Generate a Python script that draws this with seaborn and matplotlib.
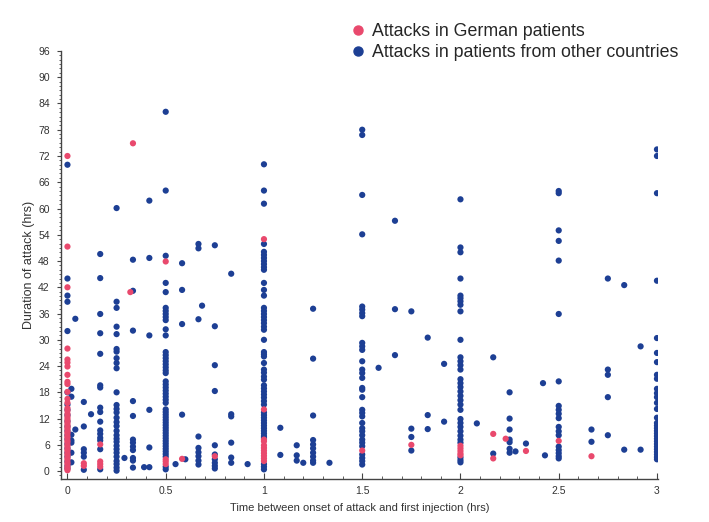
import numpy as np
import pandas as pd
import matplotlib
matplotlib.use('Agg')
import matplotlib.pyplot as plt
from matplotlib.lines import Line2D
from matplotlib.ticker import MultipleLocator
import seaborn as sns

sns.set_style('ticks')
plt.rcParams['font.family'] = ['Liberation Sans', 'DejaVu Sans']

pink = '#E9496D'
blue = '#1D3F94'

# time columns (hrs) and attack durations (hrs), patients from other countries
other_times = [0.0, 0.02, 0.04, 0.0833, 0.12, 0.1667, 0.25, 0.29, 0.3333, 0.39, 0.4167,
               0.5, 0.55, 0.5833, 0.6, 0.6667, 0.685, 0.75, 0.8333, 0.9167, 1.0, 1.0833,
               1.1667, 1.2, 1.25, 1.3333, 1.5, 1.5833, 1.6667, 1.75, 1.8333, 1.9167, 2.0,
               2.0833, 2.1667, 2.25, 2.28, 2.3333, 2.42, 2.43, 2.5, 2.6667, 2.75, 2.8333,
               2.9167, 3.0]
other_durations = [
    [70.0, 44.0, 40.1, 38.7, 32.0, 18.0, 15.2, 14.0, 12.8, 11.4, 10.2, 9.2, 8.2, 7.3, 6.2, 5.2, 4.2, 3.3, 2.2, 1.2, 0.6],
    [18.8, 17.0, 8.3, 7.0, 6.5, 4.2, 2.0],
    [34.8, 9.5],
    [15.8, 10.2, 5.0, 4.2, 3.3, 0.3],
    [13.0],
    [49.6, 44.1, 35.9, 31.5, 26.8, 19.6, 19.1, 14.5, 13.5, 11.3, 9.3, 8.5, 7.6, 7.0, 5.0, 0.4],
    [60.1, 38.7, 37.3, 33.0, 31.3, 27.9, 27.3, 25.8, 24.7, 23.5, 18.0, 15.1, 14.2, 13.4, 12.2, 11.2, 10.3,
     9.2, 8.2, 7.4, 6.7, 5.8, 5.0, 4.2, 3.3, 2.3, 1.6, 0.8, 0.1],
    [3.0],
    [48.3, 41.2, 32.1, 16.0, 12.6, 7.2, 6.5, 5.6, 4.8, 3.0, 2.4, 0.8],
    [0.9],
    [61.8, 48.7, 31.0, 14.0, 5.4, 0.9],
    [82.1, 64.1, 49.2, 43.0, 40.9, 37.3, 36.6, 35.9, 35.2, 34.5, 32.4, 31.0, 27.2, 26.5, 25.8, 25.1, 24.4,
     23.7, 23.0, 22.4, 20.5, 19.8, 19.1, 18.4, 17.7, 17.0, 16.3, 15.6, 14.1, 13.5, 12.9, 12.3, 11.7, 11.1,
     10.5, 9.9, 9.3, 8.7, 8.1, 7.5, 6.9, 6.3, 5.7, 5.1, 4.5, 3.9, 3.3, 1.0, 0.4],
    [1.6],
    [47.5, 41.4, 33.6, 12.9],
    [2.7],
    [51.9, 50.9, 34.7, 7.9, 5.3, 4.3, 3.4, 2.4, 1.5],
    [37.8],
    [51.6, 33.1, 24.2, 18.3, 5.9, 3.8, 2.7, 1.9, 1.2, 0.6],
    [45.1, 13.0, 12.5, 6.5, 3.1, 1.9],
    [1.6],
    [70.1, 64.1, 61.1, 51.9, 50.1, 49.4, 48.7, 48.0, 47.3, 46.6, 46.0, 43.0, 41.4, 40.1, 37.3, 36.6, 35.9,
     35.2, 34.5, 33.8, 33.0, 32.3, 30.0, 27.2, 26.7, 26.2, 24.7, 23.2, 22.5, 21.6, 20.9, 19.6, 18.9, 18.2,
     17.5, 16.8, 16.0, 15.2, 13.4, 12.8, 12.2, 11.6, 11.0, 10.4, 9.8, 9.2, 8.6, 8.0, 7.6, 1.6, 1.0, 0.4],
    [9.9, 3.7],
    [5.9, 3.6, 2.4],
    [1.9],
    [37.1, 25.7, 12.7, 7.1, 6.1, 5.2, 4.2, 3.3, 2.4, 1.9],
    [1.9],
    [78.0, 76.8, 63.1, 54.1, 37.6, 36.9, 36.1, 35.4, 29.3, 28.5, 27.7, 25.1, 23.2, 22.4, 21.3, 19.0, 18.6,
     16.9, 14.0, 13.3, 12.5, 11.0, 9.8, 9.1, 8.2, 7.2, 6.5, 5.7, 3.8, 3.0, 2.3, 1.5],
    [23.6],
    [57.2, 37.0, 26.5],
    [36.5, 9.7, 7.8, 4.7],
    [30.5, 12.8, 9.6],
    [24.5, 11.3],
    [62.1, 51.1, 50.0, 44.0, 40.1, 39.5, 38.8, 38.0, 36.5, 30.0, 26.0, 25.1, 24.2, 23.2, 21.0, 20.1, 19.2,
     18.2, 17.2, 16.2, 15.2, 14.0, 11.9, 11.0, 10.1, 9.1, 8.1, 7.2, 6.5, 3.1, 2.5, 2.0],
    [10.9],
    [26.0, 4.0],
    [18.0, 12.0, 9.5, 7.2, 6.6, 5.1, 4.2],
    [4.5],
    [6.3],
    [20.1],
    [3.6],
    [64.0, 63.5, 55.0, 52.6, 48.1, 35.9, 20.5, 14.9, 14.0, 13.1, 12.1, 10.1, 9.1, 8.2, 5.6, 4.8, 4.1, 3.4, 2.9],
    [9.5, 6.7],
    [44.0, 23.2, 22.0, 16.9, 8.2],
    [42.5, 4.9],
    [28.5, 4.9],
    [73.5, 72.0, 63.5, 43.5, 30.4, 27.0, 24.9, 22.0, 21.1, 18.8, 17.8, 16.9, 15.6, 14.2, 12.2, 11.0, 10.4,
     9.8, 9.2, 8.6, 8.0, 7.4, 6.8, 6.2, 5.6, 5.0, 4.4, 3.8, 3.2, 2.7],
]

# German patients
german_times = [0.0, 0.0833, 0.1667, 0.32, 0.3333, 0.5, 0.5833, 0.75, 1.0, 1.5, 1.75, 2.0,
                2.1667, 2.23, 2.3333, 2.5, 2.6667]
german_durations = [
    [72.0, 51.3, 42.0, 28.0, 25.5, 24.8, 23.9, 22.0, 20.4, 19.9, 18.1, 16.5, 15.6, 14.4, 13.8, 13.1, 12.5,
     12.0, 11.5, 11.0, 10.5, 10.0, 9.6, 9.0, 8.6, 8.0, 7.6, 7.0, 6.6, 6.0, 5.6, 5.0, 4.6, 4.0, 3.6, 3.0,
     2.6, 2.0, 1.6, 1.0, 0.6, 0.2],
    [1.8, 1.2],
    [6.1, 2.2, 1.6, 1.0],
    [40.9],
    [74.9],
    [47.9, 2.7, 2.2, 1.6],
    [2.8],
    [3.4],
    [53.0, 14.1, 7.2, 6.8, 5.9, 5.3, 4.7, 4.1, 3.5, 2.9, 2.3],
    [4.7],
    [6.0],
    [5.8, 5.2, 4.6, 4.0, 3.6],
    [8.5, 2.9],
    [7.4],
    [4.6],
    [6.9],
    [3.4],
]

label_german = 'Attacks in German patients'
label_other = 'Attacks in patients from other countries'

rows = []
for t, durs in zip(other_times, other_durations):
    for d in durs:
        rows.append((t, d, label_other))
for t, durs in zip(german_times, german_durations):
    for d in durs:
        rows.append((t, d, label_german))
df = pd.DataFrame(rows, columns=['time', 'duration', 'group'])

fig = plt.figure(figsize=(7.09, 5.22), dpi=100)
ax = fig.add_axes([0.086, 0.0824, 0.842, 0.82])

sns.scatterplot(data=df, x='time', y='duration', hue='group',
                palette={label_other: blue, label_german: pink},
                s=20, linewidth=0, ax=ax, legend=False)

ax.set_xlim(-0.033, 3.005)
ax.set_ylim(-1.8, 96)
ax.set_xticks([0, 0.5, 1, 1.5, 2, 2.5, 3])
ax.set_xticklabels(['0', '0.5', '1', '1.5', '2', '2.5', '3'])
ax.set_yticks(np.arange(0, 97, 6))
ax.xaxis.set_minor_locator(MultipleLocator(0.1))
ax.yaxis.set_minor_locator(MultipleLocator(1))
ax.tick_params(axis='both', which='major', labelsize=7.5, colors='#444444', labelcolor='#333333')
ax.tick_params(axis='x', which='major', direction='in', length=4, pad=5)
ax.tick_params(axis='x', which='minor', direction='in', length=2.5, color='#444444')
ax.tick_params(axis='y', which='major', direction='out', length=3, pad=5)
ax.tick_params(axis='y', which='minor', direction='out', length=1.5, color='#444444')
sns.despine(ax=ax)
for side in ['left', 'bottom']:
    ax.spines[side].set_color('#444444')
    ax.spines[side].set_linewidth(1.0)

ax.set_xlabel('Time between onset of attack and first injection (hrs)', fontsize=8, color='#333333', labelpad=5)
ax.set_ylabel('Duration of attack (hrs)', fontsize=9, color='#333333', labelpad=2)

handles = [Line2D([], [], marker='o', linestyle='', color=pink, markersize=6.5),
           Line2D([], [], marker='o', linestyle='', color=blue, markersize=6.5)]
fig.legend(handles, [label_german, label_other], loc='upper left',
           bbox_to_anchor=(0.495, 0.955), frameon=False, fontsize=12.8,
           handlelength=0.8, handletextpad=0.4, labelspacing=0.2,
           borderpad=0, borderaxespad=0)

fig.savefig('out.png', dpi=100)
